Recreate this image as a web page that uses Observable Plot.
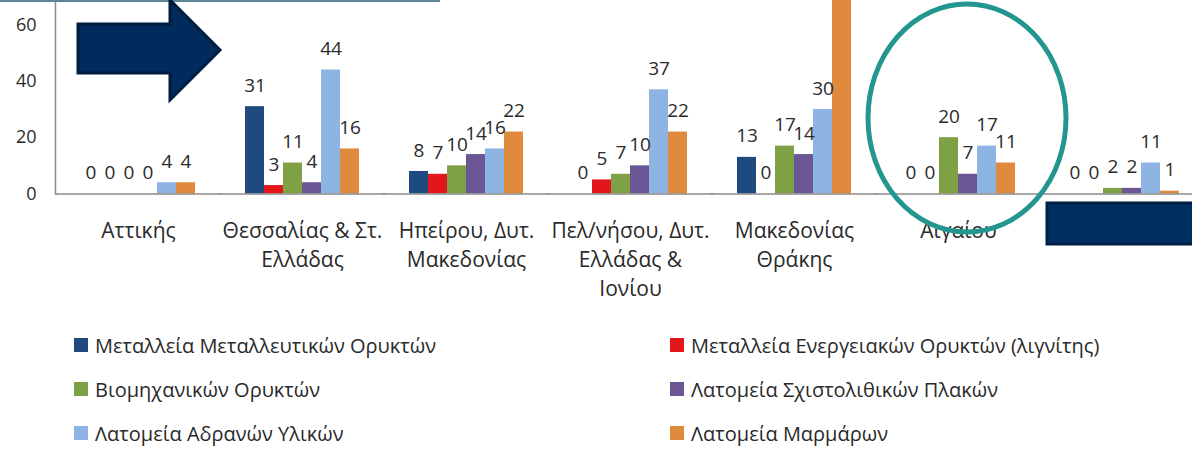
<!DOCTYPE html>
<html><head><meta charset="utf-8">
<script src="https://cdn.jsdelivr.net/npm/d3@7"></script>
<script src="https://cdn.jsdelivr.net/npm/@observablehq/plot@0.6"></script>
<style>
body{margin:0;background:#fff;font-family:"Open Sans",sans-serif;}
#wrap{position:relative;width:1192px;height:449px;overflow:hidden;background:#fff;}
#chart{position:absolute;left:0;top:0;}
#legend{position:absolute;left:74px;top:323px;display:grid;grid-template-columns:596px auto;grid-auto-rows:44px;}
.item{display:flex;align-items:center;font-size:20px;color:#2a2a2a;white-space:nowrap;}
.sw{width:14px;height:14px;margin-right:7px;flex:none;}
#overlay{position:absolute;left:0;top:0;pointer-events:none;}
</style></head><body>
<div id="wrap"><div id="chart"></div><div id="legend"></div>
<svg id="overlay" width="1192" height="449">
  <line x1="0" y1="1" x2="440" y2="1" stroke="#5C8494" stroke-width="2"/>
  <polygon points="78,24 170,24 170,0 220,50 170,100 170,73 78,73" fill="#002B5C" stroke="#001C3F" stroke-width="3" stroke-linejoin="miter"/>
  <ellipse cx="967" cy="118" rx="99" ry="114" fill="none" stroke="#22968F" stroke-width="5"/>
  <rect x="1047" y="203" width="160" height="41" fill="#00305F" stroke="#001F45" stroke-width="3"/>
</svg>
</div>
<script>
const regions = ["Αττικής", "Θεσσαλίας & Στ. Ελλάδας", "Ηπείρου, Δυτ. Μακεδονίας", "Πελ/νήσου, Δυτ. Ελλάδας & Ιονίου", "Μακεδονίας Θράκης", "Αιγαίου", "Κρήτης"];
const regionLabels = ["Αττικής", "Θεσσαλίας & Στ.\nΕλλάδας", "Ηπείρου, Δυτ.\nΜακεδονίας", "Πελ/νήσου, Δυτ.\nΕλλάδας &\nΙονίου", "Μακεδονίας\nΘράκης", "Αιγαίου", "Κρήτης"];
const series = ["Μεταλλεία Μεταλλευτικών Ορυκτών", "Μεταλλεία Ενεργειακών Ορυκτών (λιγνίτης)", "Βιομηχανικών Ορυκτών", "Λατομεία Σχιστολιθικών Πλακών", "Λατομεία Αδρανών Υλικών", "Λατομεία Μαρμάρων"];
const colors = ["#1F4A7F", "#E2161B", "#7FA145", "#6A5595", "#8DB4E3", "#E08A3D"];
const metallic   = [0, 31, 8, 0, 13, 0, 0];
const lignite    = [0, 3, 7, 5, 0, 0, 0];
const industrial = [0, 11, 10, 7, 17, 20, 2];
const schist     = [0, 4, 14, 10, 14, 7, 2];
const aggregates = [4, 44, 16, 37, 30, 17, 11];
const marble     = [4, 16, 22, 22, 75, 11, 1];
const yTicks = [0, 20, 40, 60];
const yMax = 60;

const seriesValues = [metallic, lignite, industrial, schist, aggregates, marble];
const table = [];
regions.forEach((r, i) => series.forEach((s, j) => table.push({region: r, series: s, value: seriesValues[j][i]})));
const labelOf = new Map(regions.map((r, i) => [r, regionLabels[i]]));

const chart = Plot.plot({
  width: 1192, height: 310,
  marginLeft: 55, marginRight: -13, marginTop: 24.5, marginBottom: 116.5,
  style: {fontFamily: "Open Sans", background: "transparent", color: "#2a2a2a"},
  fx: {domain: regions, paddingInner: 0.29, paddingOuter: 0.145, label: null},
  x: {domain: series, padding: 0, axis: null},
  y: {domain: [0, yMax]},
  color: {domain: series, range: colors},
  marks: [
    Plot.barY(table, {fx: "region", x: "series", y: "value", fill: "series"}),
    Plot.text(table.filter(d => d.value <= yMax), {fx: "region", x: "series", y: "value", text: d => String(d.value), dy: -21, fontSize: 19, fill: "#2a2a2a"}),
    Plot.ruleY([0], {stroke: "#8a8a8a", strokeWidth: 1.5, insetLeft: -25, insetRight: -25}),
    Plot.frame({anchor: "left", facetAnchor: "left", insetLeft: -25, insetTop: -25, stroke: "#8a8a8a", strokeWidth: 1.5}),
    Plot.axisY({ticks: yTicks, tickSize: 0, tickPadding: 44, fontSize: 18, label: null}),
    Plot.axisFx({anchor: "bottom", tickSize: 0, tickPadding: 23, fontSize: 21, lineHeight: 1.38, label: null, tickFormat: d => labelOf.get(d)})
  ]
});
document.getElementById("chart").appendChild(chart);

const legend = document.getElementById("legend");
series.forEach((s, j) => {
  const it = document.createElement("div");
  it.className = "item";
  it.innerHTML = `<span class="sw" style="background:${colors[j]}"></span><span>${s}</span>`;
  legend.appendChild(it);
});
</script>
</body></html>
